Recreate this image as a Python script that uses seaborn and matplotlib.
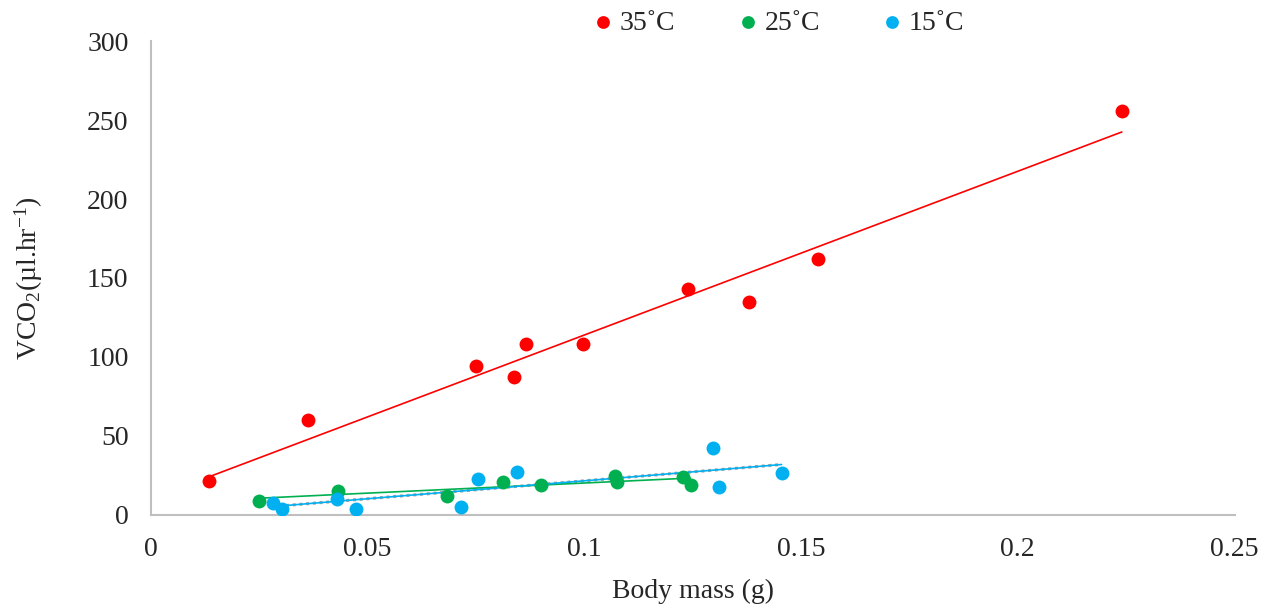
import numpy as np
import pandas as pd
import matplotlib
matplotlib.use("Agg")
import matplotlib.pyplot as plt
import seaborn as sns
from matplotlib.ticker import FuncFormatter
from matplotlib.collections import PathCollection

# Data
mass_35 = [0.0134, 0.0362, 0.0750, 0.0837, 0.0865, 0.0996, 0.1240, 0.1380, 0.1540, 0.2240]
vco2_35 = [21.5, 60, 94, 87, 108, 108, 143, 135, 162, 256]
mass_25 = [0.0249, 0.0431, 0.0683, 0.0812, 0.0899, 0.1070, 0.1075, 0.1227, 0.1245]
vco2_25 = [8.9, 15.2, 12.0, 20.9, 19.0, 24.7, 21.0, 24.0, 19.0]
mass_15 = [0.0281, 0.0302, 0.0429, 0.0473, 0.0715, 0.0754, 0.0844, 0.1298, 0.1310, 0.1455]
vco2_15 = [7.6, 3.8, 10.1, 3.8, 5.0, 22.8, 27.2, 42.4, 17.7, 26.6]

labels = ["35\u02daC", "25\u02daC", "15\u02daC"]
colors = ["#FF0000", "#00B050", "#00B0F0"]
x_ticks = [0, 0.05, 0.1, 0.15, 0.2, 0.25]
y_ticks = [0, 50, 100, 150, 200, 250, 300]

sns.set_style("white")
plt.rcParams["font.family"] = ["Liberation Serif", "DejaVu Serif"]
plt.rcParams["mathtext.default"] = "regular"

FS = 20
fig = plt.figure(figsize=(12.78, 6.05), dpi=100)
ax = fig.add_axes([0.118, 0.149, 0.848, 0.783])

series = [(mass_35, vco2_35), (mass_25, vco2_25), (mass_15, vco2_15)]
for (xs, ys), lab, col in zip(series, labels, colors):
    df = pd.DataFrame({"x": xs, "y": ys})
    sns.regplot(data=df, x="x", y="y", ax=ax, ci=None, truncate=True,
                color=col, label=lab,
                scatter_kws=dict(s=100, alpha=1, linewidths=0, zorder=3),
                line_kws=dict(lw=1.2, zorder=2))

# dotted grey overlay on the 15 C trend line
df15 = pd.DataFrame({"x": mass_15, "y": vco2_15})
sns.regplot(data=df15, x="x", y="y", ax=ax, ci=None, truncate=True, scatter=False,
            color="#A0A0A0", line_kws=dict(lw=2.2, ls=(0, (1, 1.2)), zorder=1.5))

ax.set_xlim(0, 0.25)
ax.set_ylim(0, 300)
ax.set_xticks(x_ticks)
ax.set_yticks(y_ticks)
ax.xaxis.set_major_formatter(FuncFormatter(lambda v, p: "0" if v == 0 else f"{v:g}"))
ax.tick_params(axis="x", labelsize=FS, length=0, pad=16)
ax.tick_params(axis="y", labelsize=FS, length=0, pad=16)
ax.set_xlabel("Body mass (g)", fontsize=FS, labelpad=12)
ax.set_ylabel("VCO$_2$(\u00b5l.hr$^{-1}$)", fontsize=FS, labelpad=30)

for s in ["top", "right"]:
    ax.spines[s].set_visible(False)
for s in ["left", "bottom"]:
    ax.spines[s].set_color("#BFBFBF")
    ax.spines[s].set_linewidth(1.5)

handles, labs = ax.get_legend_handles_labels()
h2 = [(h, l) for h, l in zip(handles, labs) if isinstance(h, PathCollection)]
fig.legend([h for h, _ in h2], [l for _, l in h2], loc="center",
           bbox_to_anchor=(0.61, 0.962), ncol=3, frameon=False, fontsize=FS,
           handlelength=0.6, handletextpad=0.3, columnspacing=2.3, markerscale=0.92)

fig.savefig("out.png", dpi=100)
